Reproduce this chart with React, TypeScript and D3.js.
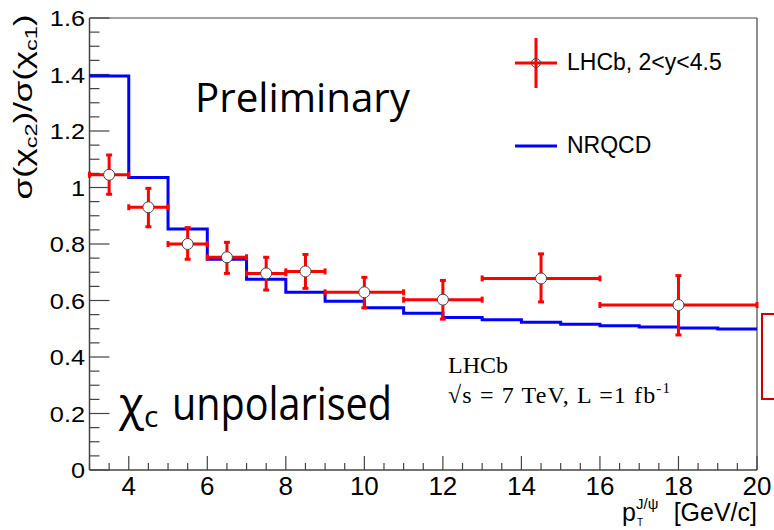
import React from "react";
import * as d3 from "d3";

// LHCb data points
const lhcbLow = [3, 4, 5, 6, 7, 8, 9, 11, 13, 16];
const lhcbHigh = [4, 5, 6, 7, 8, 9, 11, 13, 16, 20];
const lhcbX = [3.5, 4.5, 5.5, 6.5, 7.5, 8.5, 10, 12, 14.5, 18];
const lhcbY = [1.045, 0.93, 0.8, 0.753, 0.696, 0.703, 0.629, 0.603, 0.678, 0.584];
const lhcbErrHi = [1.115, 0.997, 0.858, 0.806, 0.753, 0.763, 0.682, 0.671, 0.765, 0.688];
const lhcbErrLo = [0.976, 0.861, 0.746, 0.696, 0.637, 0.643, 0.574, 0.534, 0.595, 0.478];

// NRQCD histogram
const nrqcdEdges = [3, 4, 5, 6, 7, 8, 9, 10, 11, 12, 13, 14, 15, 16, 17, 18, 19, 20];
const nrqcdValues = [1.395, 1.035, 0.853, 0.746, 0.675, 0.629, 0.597, 0.574, 0.555, 0.54, 0.532, 0.523, 0.516, 0.511, 0.506, 0.503, 0.499];

const xMajorTicks = [4, 6, 8, 10, 12, 14, 16, 18, 20];
const yMajorTicks = [0, 0.2, 0.4, 0.6, 0.8, 1, 1.2, 1.4, 1.6];

const W = 774;
const H = 530;
const RED = "#ff0000";
const BLUE = "#0000ff";
const AXIS = "#444";

export default function App() {
  const x = d3.scaleLinear().domain([3, 20]).range([89.5, 757]);
  const y = d3.scaleLinear().domain([0, 1.6]).range([470, 18]);

  const xMinor = d3.range(3, 20.001, 0.5).filter((v) => !xMajorTicks.includes(v));
  const yMinor = d3
    .range(0, 1.6001, 0.05)
    .map((v) => Math.round(v * 100) / 100)
    .filter((v) => !yMajorTicks.some((m) => Math.abs(m - v) < 1e-6));

  const histPts: [number, number][] = nrqcdValues.map((v, i) => [nrqcdEdges[i], v]);
  histPts.push([nrqcdEdges[nrqcdEdges.length - 1], nrqcdValues[nrqcdValues.length - 1]]);
  const stepLine = d3
    .line<[number, number]>()
    .x((d) => x(d[0]))
    .y((d) => y(d[1]))
    .curve(d3.curveStepAfter);

  const sans = "'Liberation Sans', Arial, sans-serif";
  const serif = "'Liberation Serif', 'Times New Roman', serif";
  const calib = "'Open Sans', 'Noto Sans', sans-serif";

  return (
    <svg width={W} height={H} style={{ position: "absolute", left: 0, top: 0, background: "#fff" }}>
      <rect x={0} y={0} width={W} height={H} fill="#fff" />
      {/* frame */}
      <line x1={x(3)} x2={x(20)} y1={y(1.6)} y2={y(1.6)} stroke={AXIS} strokeWidth={1.2} />
      <line x1={x(20)} x2={x(20)} y1={y(1.6)} y2={y(0)} stroke={AXIS} strokeWidth={1.2} />
      <line x1={x(3)} x2={x(20)} y1={y(0)} y2={y(0)} stroke={AXIS} strokeWidth={1.5} />
      <line x1={x(3)} x2={x(3)} y1={y(1.6)} y2={y(0)} stroke={AXIS} strokeWidth={1.5} />

      {/* y ticks */}
      {yMajorTicks.map((t) => (
        <g key={"ym" + t}>
          <line x1={x(3)} x2={x(3) + 20} y1={y(t)} y2={y(t)} stroke={AXIS} strokeWidth={1.2} />
          <text
            transform={`translate(85,${y(t) + 8}) scale(1.15,1)`}
            textAnchor="end"
            fontFamily={sans}
            fontSize={22}
            fill="#000"
          >
            {d3.format("")(t)}
          </text>
        </g>
      ))}
      {yMinor.map((t) => (
        <line key={"yn" + t} x1={x(3)} x2={x(3) + 10} y1={y(t)} y2={y(t)} stroke={AXIS} strokeWidth={1.2} />
      ))}

      {/* x ticks */}
      {xMajorTicks.map((t) => (
        <g key={"xm" + t}>
          <line x1={x(t)} x2={x(t)} y1={y(0)} y2={y(0) - 14} stroke={AXIS} strokeWidth={1.2} />
          <text x={x(t)} y={495} textAnchor="middle" fontFamily={sans} fontSize={26} fill="#000">
            {t}
          </text>
        </g>
      ))}
      {xMinor.map((t) => (
        <line key={"xn" + t} x1={x(t)} x2={x(t)} y1={y(0)} y2={y(0) - 7} stroke={AXIS} strokeWidth={1.2} />
      ))}

      {/* NRQCD */}
      <path d={stepLine(histPts) || ""} fill="none" stroke={BLUE} strokeWidth={3} />

      {/* LHCb points */}
      {lhcbX.map((xv, i) => (
        <g key={"p" + i} stroke={RED} strokeWidth={3}>
          <line x1={x(lhcbLow[i])} x2={x(lhcbHigh[i])} y1={y(lhcbY[i])} y2={y(lhcbY[i])} />
          <line x1={x(xv)} x2={x(xv)} y1={y(lhcbErrHi[i])} y2={y(lhcbErrLo[i])} />
          <line x1={x(xv) - 3} x2={x(xv) + 3} y1={y(lhcbErrHi[i])} y2={y(lhcbErrHi[i])} />
          <line x1={x(xv) - 3} x2={x(xv) + 3} y1={y(lhcbErrLo[i])} y2={y(lhcbErrLo[i])} />
          <line x1={x(lhcbLow[i])} x2={x(lhcbLow[i])} y1={y(lhcbY[i]) - 3} y2={y(lhcbY[i]) + 3} />
          <line x1={x(lhcbHigh[i])} x2={x(lhcbHigh[i])} y1={y(lhcbY[i]) - 3} y2={y(lhcbY[i]) + 3} />
          <circle cx={x(xv)} cy={y(lhcbY[i])} r={5.5} fill="#fff" stroke="#444" strokeWidth={1} />
        </g>
      ))}

      {/* red box at right edge */}
      <rect x={762} y={314} width={40} height={85} fill="none" stroke="#cc0000" strokeWidth={2} />

      {/* legend */}
      <g>
        <line x1={515} x2={557} y1={63} y2={63} stroke={RED} strokeWidth={3} />
        <line x1={536} x2={536} y1={38} y2={88} stroke={RED} strokeWidth={3} />
        <circle cx={536} cy={63} r={4.5} fill="none" stroke="#444" strokeWidth={1} />
        <text x={567} y={70} fontFamily={sans} fontSize={23} fill="#000">
          LHCb, 2&lt;y&lt;4.5
        </text>
        <line x1={515} x2={557} y1={146} y2={146} stroke={BLUE} strokeWidth={3} />
        <text x={567} y={153} fontFamily={sans} fontSize={23} fill="#000">
          NRQCD
        </text>
      </g>

      {/* annotations */}
      <text x={195} y={112} fontFamily={calib} fontSize={40} textLength={215} lengthAdjust="spacingAndGlyphs" fill="#000">
        Preliminary
      </text>
      <text x={119} y={420} fontFamily={calib} fontSize={46} fill="#000">
        χ<tspan fontSize={30} dy={7}>c</tspan>
      </text>
      <text x={172} y={420} fontFamily={calib} fontSize={46} textLength={220} lengthAdjust="spacingAndGlyphs" fill="#000">
        unpolarised
      </text>

      <text x={448} y={373} fontFamily={serif} fontSize={24} fill="#000">
        LHCb
      </text>
      <text x={448} y={403} fontFamily={serif} fontSize={24} fill="#000" textLength={222} lengthAdjust="spacing">
        √s = 7 TeV, L =1 fb
        <tspan fontSize={15} dy={-10}>-1</tspan>
      </text>

      {/* y axis title */}
      <text
        transform={`translate(32,107) rotate(-90)`}
        textAnchor="middle"
        fontFamily={sans}
        fontSize={25}
        fill="#000"
        textLength={185}
        lengthAdjust="spacingAndGlyphs"
      >
        σ(χ<tspan fontSize={17} dy={5}>c2</tspan>
        <tspan dy={-5}>)/σ(χ</tspan>
        <tspan fontSize={17} dy={5}>c1</tspan>
        <tspan dy={-5}>)</tspan>
      </text>

      {/* x axis title */}
      <text x={622} y={521} fontFamily={sans} fontSize={25} fill="#000">
        p
      </text>
      <text x={637} y={526} fontFamily={sans} fontSize={10} fill="#000">
        T
      </text>
      <text x={636} y={509} fontFamily={sans} fontSize={15} fill="#000">
        J/ψ
      </text>
      <text x={757} y={521} textAnchor="end" fontFamily={sans} fontSize={25} fill="#000">
        [GeV/c]
      </text>
    </svg>
  );
}
